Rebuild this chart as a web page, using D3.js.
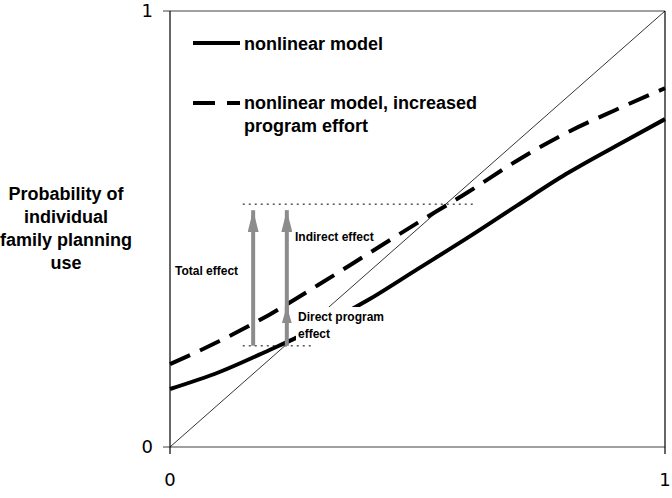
<!DOCTYPE html>
<html>
<head>
<meta charset="utf-8">
<title>Family planning use</title>
<script src="https://d3js.org/d3.v7.min.js"></script>
<style>
  body { margin: 0; background: #fff; }
  svg text { font-family: "Liberation Sans", Arial, sans-serif; fill: #000; }
  .tick-label { font-size: 18px; font-family: "DejaVu Sans", sans-serif; }
  .legend-label { font-size: 18px; font-weight: bold; }
  .ylabel { font-size: 18px; font-weight: bold; }
  .note { font-size: 12px; font-weight: bold; }
</style>
</head>
<body>
<svg id="chart" width="672" height="498"></svg>
<script>
// x = program/community level
const xs = [0, 0.1, 0.2, 0.3, 0.4, 0.5, 0.6, 0.7, 0.8, 0.9, 1];
const nonlinear = [0.133, 0.172, 0.222, 0.275, 0.337, 0.408, 0.479, 0.553, 0.626, 0.690, 0.752];
const increased = [0.190, 0.243, 0.303, 0.372, 0.443, 0.514, 0.583, 0.656, 0.720, 0.773, 0.823];
const diagonal = [[0, 0], [1, 1]];
const tickValues = [0, 1];
const legendLabels = ["nonlinear model", "nonlinear model, increased", "program effort"];
const yLabelLines = ["Probability of", "individual", "family planning", "use"];

// annotation positions in data units
const xTotal = 0.168, xDirect = 0.236;
const yLow = 0.232, yMid = 0.325, yHigh = 0.557;

const svg = d3.select("#chart");
const margin = {top: 11, right: 7, bottom: 51, left: 170};
const W = 672, H = 498;
const x = d3.scaleLinear().domain([0, 1]).range([margin.left, W - margin.right]);
const y = d3.scaleLinear().domain([0, 1]).range([H - margin.bottom, margin.top]);

const defs = svg.append("defs");
function arrowMarker(id, len, wid) {
  defs.append("marker")
    .attr("id", id)
    .attr("viewBox", `0 0 ${len} ${wid}`)
    .attr("refX", len).attr("refY", wid / 2)
    .attr("markerUnits", "userSpaceOnUse")
    .attr("markerWidth", len).attr("markerHeight", wid)
    .attr("orient", "auto")
    .append("path")
    .attr("d", `M0,0L${len},${wid / 2}L0,${wid}Z`)
    .attr("fill", "#8c8c8c");
}
arrowMarker("headBig", 22, 11);
arrowMarker("headSmall", 17, 10);

// frame: gray top/bottom, black left/right with tick stubs
svg.append("line").attr("x1", x(0) - 7).attr("x2", x(1)).attr("y1", y(1)).attr("y2", y(1))
  .attr("stroke", "#808080").attr("stroke-width", 1.5);
svg.append("line").attr("x1", x(0) - 7).attr("x2", x(1)).attr("y1", y(0)).attr("y2", y(0))
  .attr("stroke", "#808080").attr("stroke-width", 1.5);
svg.append("line").attr("x1", x(0)).attr("x2", x(0)).attr("y1", y(1)).attr("y2", y(0) + 7)
  .attr("stroke", "#000").attr("stroke-width", 1.2);
svg.append("line").attr("x1", x(1)).attr("x2", x(1)).attr("y1", y(1)).attr("y2", y(0) + 7)
  .attr("stroke", "#000").attr("stroke-width", 1.2);

// tick labels
svg.selectAll("text.xt").data(tickValues).enter().append("text")
  .attr("class", "tick-label xt")
  .attr("x", d => x(d)).attr("y", y(0) + 39)
  .attr("text-anchor", "middle").text(d => d);
svg.selectAll("text.yt").data(tickValues).enter().append("text")
  .attr("class", "tick-label yt")
  .attr("x", x(0) - 17).attr("y", d => y(d) + 6)
  .attr("text-anchor", "end").text(d => d);

// 45-degree line
const line = d3.line().x(d => x(d[0])).y(d => y(d[1]));
svg.append("path").attr("d", line(diagonal))
  .attr("fill", "none").attr("stroke", "#000").attr("stroke-width", 0.8);

const curve = d3.line().x(d => x(d[0])).y(d => y(d[1])).curve(d3.curveMonotoneX);
svg.append("path").attr("d", curve(xs.map((v, i) => [v, increased[i]])))
  .attr("fill", "none").attr("stroke", "#000").attr("stroke-width", 4)
  .attr("stroke-dasharray", "22,11");
svg.append("path").attr("d", curve(xs.map((v, i) => [v, nonlinear[i]])))
  .attr("fill", "none").attr("stroke", "#000").attr("stroke-width", 4);

// dotted guides
svg.append("line").attr("x1", x(0.147)).attr("x2", x(0.614))
  .attr("y1", y(yHigh)).attr("y2", y(yHigh))
  .attr("stroke", "#000").attr("stroke-width", 1).attr("stroke-dasharray", "2,4");
svg.append("line").attr("x1", x(0.147)).attr("x2", x(0.287))
  .attr("y1", y(yLow)).attr("y2", y(yLow))
  .attr("stroke", "#000").attr("stroke-width", 1).attr("stroke-dasharray", "2,4");

// arrows
svg.append("line").attr("x1", x(xTotal)).attr("x2", x(xTotal))
  .attr("y1", y(yLow)).attr("y2", y(yHigh) + 6)
  .attr("stroke", "#8c8c8c").attr("stroke-width", 4).attr("marker-end", "url(#headBig)");
svg.append("line").attr("x1", x(xDirect)).attr("x2", x(xDirect))
  .attr("y1", y(yLow)).attr("y2", y(yMid) + 1)
  .attr("stroke", "#8c8c8c").attr("stroke-width", 4).attr("marker-end", "url(#headSmall)");
svg.append("line").attr("x1", x(xDirect)).attr("x2", x(xDirect))
  .attr("y1", y(yMid) + 17).attr("y2", y(yHigh) + 6)
  .attr("stroke", "#8c8c8c").attr("stroke-width", 4).attr("marker-end", "url(#headBig)");

// notes
svg.append("rect").attr("x", 296).attr("y", 307).attr("width", 100).attr("height", 37)
  .attr("fill", "#fff");
svg.append("text").attr("class", "note").attr("x", 175).attr("y", 275).text("Total effect");
svg.append("text").attr("class", "note").attr("x", 295).attr("y", 241).text("Indirect effect");
svg.append("text").attr("class", "note").attr("x", 298).attr("y", 321).text("Direct program");
svg.append("text").attr("class", "note").attr("x", 298).attr("y", 338).text("effect");

// legend
svg.append("line").attr("x1", 193).attr("x2", 240).attr("y1", 43).attr("y2", 43)
  .attr("stroke", "#000").attr("stroke-width", 4);
svg.append("line").attr("x1", 193).attr("x2", 240).attr("y1", 103).attr("y2", 103)
  .attr("stroke", "#000").attr("stroke-width", 4).attr("stroke-dasharray", "22,12");
svg.append("text").attr("class", "legend-label").attr("x", 244).attr("y", 50).text(legendLabels[0]);
svg.append("text").attr("class", "legend-label").attr("x", 244).attr("y", 109).text(legendLabels[1]);
svg.append("text").attr("class", "legend-label").attr("x", 244).attr("y", 132).text(legendLabels[2]);

// y label
svg.selectAll("text.yl").data(yLabelLines).enter().append("text")
  .attr("class", "ylabel yl")
  .attr("x", 66).attr("y", (d, i) => 200 + i * 23)
  .attr("text-anchor", "middle").text(d => d);
</script>
</body>
</html>
